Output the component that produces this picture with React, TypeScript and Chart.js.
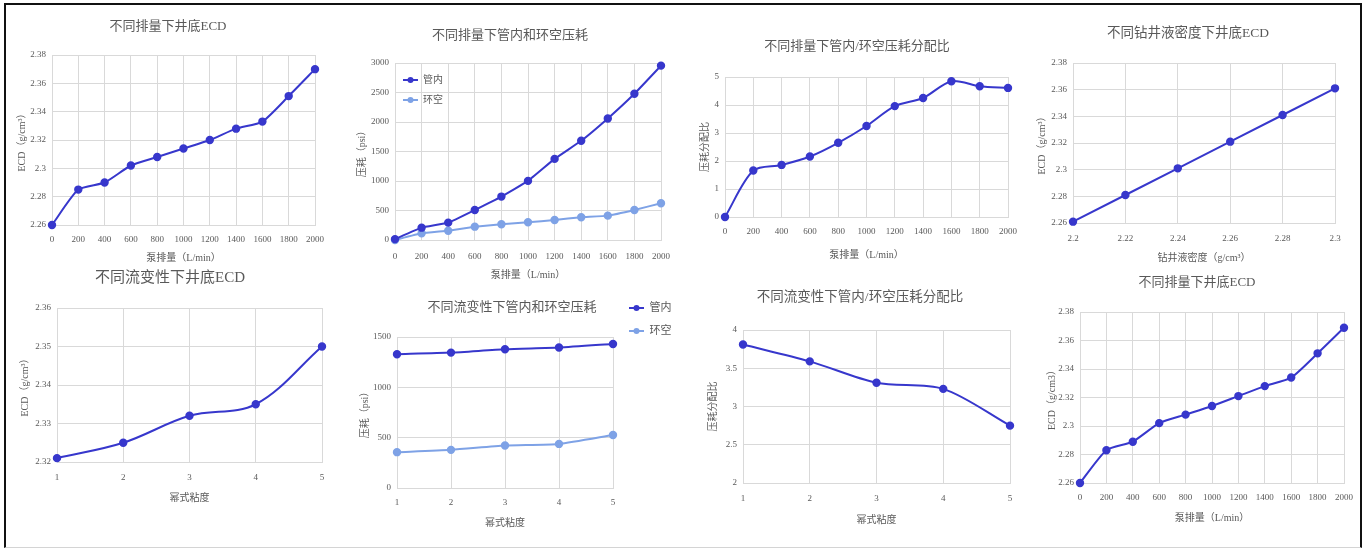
import React, { useEffect, useRef } from 'react';
import { Chart, registerables } from 'chart.js';

Chart.register(...registerables);

// ---------- data ----------
const flowLabels = ['0', '200', '400', '600', '800', '1000', '1200', '1400', '1600', '1800', '2000'];
const ecdByFlow = [2.26, 2.285, 2.29, 2.302, 2.308, 2.314, 2.32, 2.328, 2.333, 2.351, 2.37];
const ecdByFlowRepeat = [2.26, 2.283, 2.289, 2.302, 2.308, 2.314, 2.321, 2.328, 2.334, 2.351, 2.369];
const pipeLossByFlow = [15, 209, 294, 509, 736, 1002, 1375, 1681, 2060, 2479, 2955];
const annulusLossByFlow = [0, 113, 158, 226, 266, 300, 340, 385, 413, 509, 623];
const ratioByFlow = [0, 1.66, 1.86, 2.16, 2.65, 3.25, 3.96, 4.25, 4.85, 4.67, 4.61];

const densityLabels = ['2.2', '2.22', '2.24', '2.26', '2.28', '2.3'];
const ecdByDensity = [2.261, 2.281, 2.301, 2.321, 2.341, 2.361];

const viscosityLabels = ['1', '2', '3', '4', '5'];
const ecdByViscosity = [2.321, 2.325, 2.332, 2.335, 2.35];
const pipeLossByViscosity = [1329, 1345, 1378, 1395, 1431];
const annulusLossByViscosity = [356, 379, 422, 438, 527];
const ratioByViscosity = [3.81, 3.59, 3.31, 3.23, 2.75];

const ecdRangeWide = [2.26, 2.38, 0.02];
const ecdRangeNarrow = [2.32, 2.36, 0.01];
const lossRangeFlow = [0, 3000, 500];
const lossRangeVisc = [0, 1500, 500];
const ratioRangeFlow = [0, 5, 1];
const ratioRangeVisc = [2, 4, 0.5];

// ---------- styles ----------
const DARK = '#3737cc';
const LIGHT = '#7ea2e6';
const GRID = '#d9d9d9';
const TEXT = '#595959';
const FONT = "'Liberation Serif', 'Noto Sans CJK SC', serif";

type Series = { name: string; data: number[]; color: string };
type Spec = {
  title: string;
  titleSize: number;
  titleX: number;
  titleY: number;
  plot: { l: number; t: number; r: number; b: number };
  yTitle: string;
  yTitleX: number;
  xTitle: string;
  xLabelY: number;
  xTitleY: number;
  labels: string[];
  range: number[];
  series: Series[];
  tension: number;
  legend?: { x: number; y: number; gap: number; size: number };
};

const specs: Spec[] = [
  {
    title: '不同排量下井底ECD', titleSize: 13, titleX: 168, titleY: 27,
    plot: { l: 52, t: 55, r: 315, b: 225 },
    yTitle: 'ECD（g/cm³）', yTitleX: 22,
    xTitle: '泵排量（L/min）', xLabelY: 240, xTitleY: 258,
    labels: flowLabels, range: ecdRangeWide,
    series: [{ name: 'ECD', data: ecdByFlow, color: DARK }], tension: 0.2,
  },
  {
    title: '不同排量下管内和环空压耗', titleSize: 13, titleX: 510, titleY: 36,
    plot: { l: 395, t: 63, r: 661, b: 240 },
    yTitle: '压耗（psi）', yTitleX: 362,
    xTitle: '泵排量（L/min）', xLabelY: 257, xTitleY: 275,
    labels: flowLabels, range: lossRangeFlow,
    series: [
      { name: '管内', data: pipeLossByFlow, color: DARK },
      { name: '环空', data: annulusLossByFlow, color: LIGHT },
    ],
    tension: 0.1,
    legend: { x: 403, y: 80, gap: 20, size: 10 },
  },
  {
    title: '不同排量下管内/环空压耗分配比', titleSize: 13, titleX: 857, titleY: 47,
    plot: { l: 725, t: 77, r: 1008, b: 217 },
    yTitle: '压耗分配比', yTitleX: 705,
    xTitle: '泵排量（L/min）', xLabelY: 232, xTitleY: 255,
    labels: flowLabels, range: ratioRangeFlow,
    series: [{ name: '分配比', data: ratioByFlow, color: DARK }], tension: 0.3,
  },
  {
    title: '不同钻井液密度下井底ECD', titleSize: 13.5, titleX: 1188, titleY: 33,
    plot: { l: 1073, t: 63, r: 1335, b: 223 },
    yTitle: 'ECD（g/cm³）', yTitleX: 1042,
    xTitle: '钻井液密度（g/cm³）', xLabelY: 239, xTitleY: 258,
    labels: densityLabels, range: ecdRangeWide,
    series: [{ name: 'ECD', data: ecdByDensity, color: DARK }], tension: 0,
  },
  {
    title: '不同流变性下井底ECD', titleSize: 15, titleX: 170, titleY: 278,
    plot: { l: 57, t: 308, r: 322, b: 462 },
    yTitle: 'ECD（g/cm³）', yTitleX: 25,
    xTitle: '幂式粘度', xLabelY: 478, xTitleY: 498,
    labels: viscosityLabels, range: ecdRangeNarrow,
    series: [{ name: 'ECD', data: ecdByViscosity, color: DARK }], tension: 0.35,
  },
  {
    title: '不同流变性下管内和环空压耗', titleSize: 13, titleX: 512, titleY: 308,
    plot: { l: 397, t: 337, r: 613, b: 488 },
    yTitle: '压耗（psi）', yTitleX: 365,
    xTitle: '幂式粘度', xLabelY: 503, xTitleY: 523,
    labels: viscosityLabels, range: lossRangeVisc,
    series: [
      { name: '管内', data: pipeLossByViscosity, color: DARK },
      { name: '环空', data: annulusLossByViscosity, color: LIGHT },
    ],
    tension: 0.2,
    legend: { x: 629, y: 308, gap: 23, size: 11 },
  },
  {
    title: '不同流变性下管内/环空压耗分配比', titleSize: 13.5, titleX: 860, titleY: 297,
    plot: { l: 743, t: 330, r: 1010, b: 483 },
    yTitle: '压耗分配比', yTitleX: 713,
    xTitle: '幂式粘度', xLabelY: 499, xTitleY: 520,
    labels: viscosityLabels, range: ratioRangeVisc,
    series: [{ name: '分配比', data: ratioByViscosity, color: DARK }], tension: 0.3,
  },
  {
    title: '不同排量下井底ECD', titleSize: 13, titleX: 1197, titleY: 283,
    plot: { l: 1080, t: 312, r: 1344, b: 483 },
    yTitle: 'ECD（g/cm3）', yTitleX: 1052,
    xTitle: '泵排量（L/min）', xLabelY: 498, xTitleY: 518,
    labels: flowLabels, range: ecdRangeWide,
    series: [{ name: 'ECD', data: ecdByFlowRepeat, color: DARK }], tension: 0.2,
  },
];

function glyph(color: string) {
  const c = document.createElement('canvas');
  c.width = 15;
  c.height = 8;
  const g = c.getContext('2d')!;
  g.strokeStyle = color;
  g.lineWidth = 2;
  g.beginPath();
  g.moveTo(0, 4);
  g.lineTo(15, 4);
  g.stroke();
  g.fillStyle = color;
  g.beginPath();
  g.arc(7.5, 4, 3, 0, Math.PI * 2);
  g.fill();
  return c;
}

const nudge = {
  id: 'nudge',
  afterLayout(chart: any, _args: any, opts: any) {
    const t = chart.titleBlock;
    if (t && opts.titleDx) {
      t.left += opts.titleDx;
      t.right += opts.titleDx;
    }
    const lg = chart.legend;
    if (lg && opts.legendPos) {
      lg.left = opts.legendPos.x;
      lg.top = opts.legendPos.y;
      lg.width = 110;
      lg.height = 110;
      lg.right = lg.left + 110;
      lg.bottom = lg.top + 110;
    }
  },
};

function Panel({ spec }: { spec: Spec }) {
  const ref = useRef<HTMLCanvasElement>(null);
  const cx = spec.yTitleX - 8;
  const cy = spec.titleY - 12;
  const rightEdge = Math.max(spec.plot.r + 16, spec.legend ? spec.legend.x + 50 : 0);
  const W = rightEdge - cx;
  const H = spec.xTitleY + 8 - cy;

  useEffect(() => {
    const lh = spec.titleSize * 1.2;
    const padR = cx + W - spec.plot.r;
    const defaultCenter = (2 + spec.plot.r - cx) / 2;
    const titleDx = spec.titleX - cx - defaultCenter;
    const lg = spec.legend;
    const lgPad = lg ? lg.gap - lg.size : 10;
    const tickFont = { family: FONT, size: 9 };
    const axisTitleFont = { family: FONT, size: 10 };
    const [yMin, yMax, yStep] = spec.range;

    const chart = new Chart(ref.current!, {
      type: 'line',
      data: {
        labels: spec.labels,
        datasets: spec.series.map((s) => ({
          label: s.name,
          data: s.data,
          borderColor: s.color,
          backgroundColor: s.color,
          pointBackgroundColor: s.color,
          pointBorderColor: s.color,
          pointRadius: 3.2,
          pointHoverRadius: 3.2,
          borderWidth: 2,
          tension: spec.tension,
          clip: false as any,
          fill: false,
        })),
      },
      options: {
        animation: false,
        responsive: false,
        maintainAspectRatio: false,
        events: [],
        layout: { padding: { left: 2, right: padR, top: 0, bottom: 0 } },
        plugins: {
          title: {
            display: true,
            text: spec.title,
            color: TEXT,
            font: { family: FONT, size: spec.titleSize, weight: 'normal', lineHeight: 1.2 },
            padding: { top: 12 - lh / 2, bottom: spec.plot.t - spec.titleY - lh / 2 },
          },
          legend: lg
            ? {
                display: true,
                position: 'chartArea' as any,
                align: 'start',
                fullSize: false,
                labels: {
                  usePointStyle: true,
                  pointStyleWidth: 15,
                  padding: lgPad,
                  color: TEXT,
                  font: { family: FONT, size: lg.size },
                  generateLabels: (ch: any) =>
                    ch.data.datasets.map((d: any, i: number) => ({
                      text: d.label,
                      fillStyle: d.borderColor,
                      strokeStyle: d.borderColor,
                      fontColor: TEXT,
                      lineWidth: 0,
                      pointStyle: glyph(d.borderColor),
                      hidden: false,
                      datasetIndex: i,
                    })),
                },
              }
            : { display: false },
          tooltip: { enabled: false },
          nudge: {
            titleDx,
            legendPos: lg ? { x: lg.x - cx - lgPad, y: lg.y - cy - lgPad - lg.size / 2 } : null,
          },
        } as any,
        scales: {
          x: {
            type: 'category',
            offset: false,
            grid: { color: GRID, drawTicks: false },
            border: { color: GRID },
            ticks: {
              font: tickFont,
              color: TEXT,
              padding: spec.xLabelY - spec.plot.b - 5.4,
              maxRotation: 0,
              autoSkip: false,
            },
            title: {
              display: true,
              text: spec.xTitle,
              color: TEXT,
              font: axisTitleFont,
              padding: { top: 0, bottom: 2 },
            },
            afterFit: (s: any) => {
              s.height = spec.xTitleY + 8 - spec.plot.b;
              s.paddingLeft = 0;
              s.paddingRight = 0;
            },
          },
          y: {
            type: 'linear',
            min: yMin,
            max: yMax,
            grid: { color: GRID, drawTicks: false },
            border: { color: GRID },
            ticks: {
              stepSize: yStep,
              font: tickFont,
              color: TEXT,
              padding: 6,
              callback: (v: any) => String(Number(Number(v).toFixed(4))),
            },
            title: {
              display: true,
              text: spec.yTitle,
              color: TEXT,
              font: axisTitleFont,
              padding: { top: 0, bottom: 0 },
            },
            afterFit: (s: any) => {
              s.width = spec.plot.l - cx - 2;
              s.paddingTop = 0;
              s.paddingBottom = 0;
            },
          },
        } as any,
      },
      plugins: [nudge as any],
    });
    return () => chart.destroy();
  }, []);

  return (
    <canvas
      ref={ref}
      width={W}
      height={H}
      style={{ position: 'absolute', left: cx, top: cy, width: W, height: H }}
    />
  );
}

export default function App() {
  return (
    <div
      style={{
        position: 'absolute',
        left: 0,
        top: 0,
        width: 1368,
        height: 548,
        background: '#ffffff',
        overflow: 'hidden',
      }}
    >
      <div
        style={{
          position: 'absolute',
          left: 4,
          top: 3,
          width: 1358,
          height: 545,
          boxSizing: 'border-box',
          borderTop: '2px solid #111',
          borderLeft: '2px solid #111',
          borderRight: '2px solid #111',
          borderBottom: '1px solid #d4d4d4',
        }}
      />
      {specs.map((s, i) => (
        <Panel key={i} spec={s} />
      ))}
    </div>
  );
}
